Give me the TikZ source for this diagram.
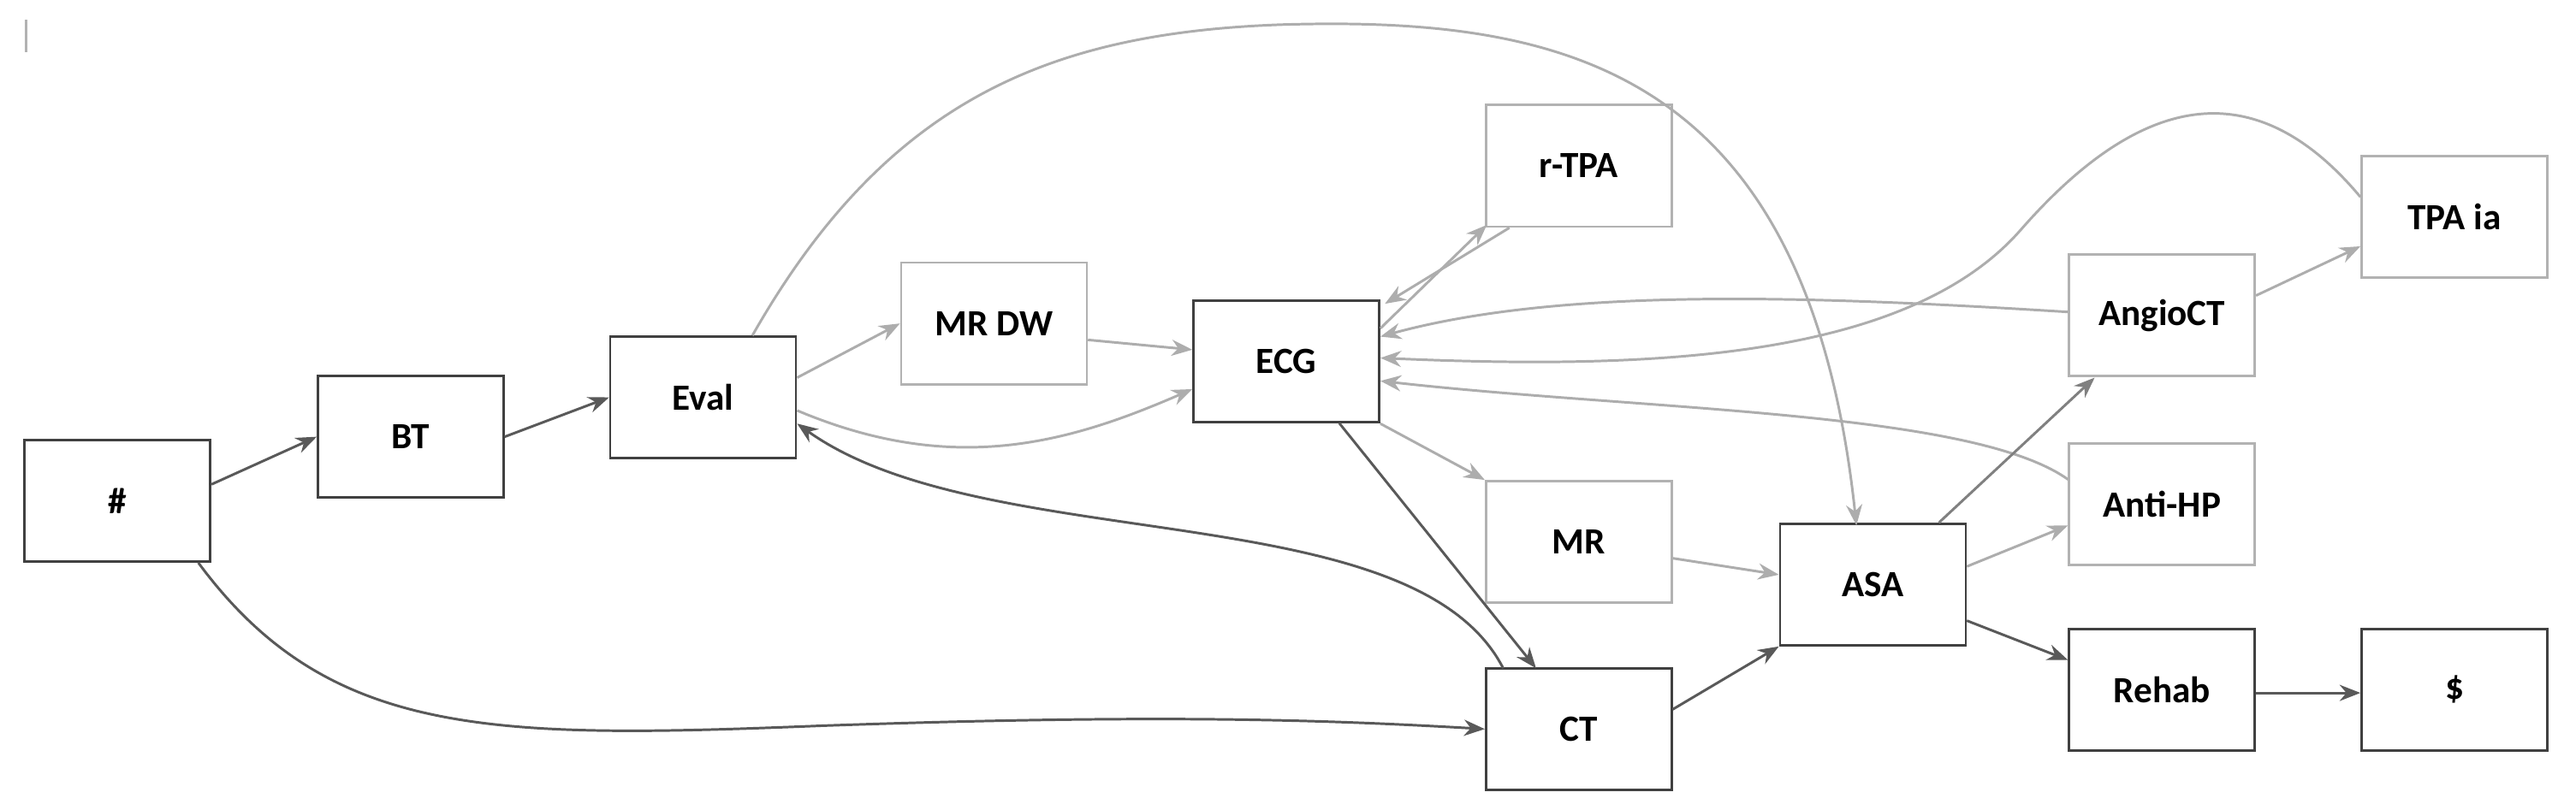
\documentclass[tikz,border=0pt]{standalone}
\usepackage{fontspec}
\setmainfont{Carlito}
\usetikzlibrary{arrows.meta}
\begin{document}
\begin{tikzpicture}[x=0.025cm,y=-0.025cm,
  box/.style={draw=#1,line width=1pt,minimum width=2.825cm,minimum height=1.85cm,inner sep=0pt,font=\bfseries\fontsize{16}{19}\selectfont,fill=white},
  dk/.style={draw=black!65,line width=1.1pt,-{Stealth[length=9pt,width=7pt]}},
  lt/.style={draw=black!32,line width=1.1pt,-{Stealth[length=9pt,width=7pt]}}]
\useasboundingbox (0,0) rectangle (1568,493);
\draw[black!30,line width=1pt] (16,12) -- (16,32);
\node[box=black!75] (h) at (71.5,305) {\#};
\node[box=black!75] (bt) at (250,266) {BT};
\node[box=black!75] (ev) at (428,242) {Eval};
\node[box=black!30] (mrdw) at (605,197) {MR DW};
\node[box=black!75] (ecg) at (783,220) {ECG};
\node[box=black!30] (rtpa) at (961,101) {r-TPA};
\node[box=black!30] (mr) at (961,330) {MR};
\node[box=black!75] (ct) at (961,444) {CT};
\node[box=black!75] (asa) at (1140,356) {ASA};
\node[box=black!30] (ang) at (1316,192) {AngioCT};
\node[box=black!30] (ahp) at (1316,307) {Anti-HP};
\node[box=black!75] (reh) at (1316,420) {Rehab};
\node[box=black!30] (tpa) at (1494,132) {TPA ia};
\node[box=black!75] (dol) at (1494,420) {\$};
\coordinate (ctin) at (935,407);
\coordinate (ctout) at (915,407);
\draw[dk] (h.east) ++(0,-10) -- (bt.west);
\draw[dk] (bt.east) -- (ev.west);
\draw[dk] (h.south east) ++(-8,0) .. controls (200,450) and (300,450) .. (500,442) .. controls (700,435) and (800,438) .. (ct.west);
\draw[lt] (ev.east) ++(0,-12) -- (mrdw.west);
\draw[lt] (ev.east) ++(0,8) .. controls (580,290) and (650,270) .. (ecg.west |- 0,237);
\draw[lt] (mrdw.east) ++(0,10) -- (ecg.west |- 0,213);
\draw[lt] (ev.north) ++(30,0) .. controls (540,60) and (640,20) .. (780,15) .. controls (950,10) and (1100,40) .. (1130,320);
\draw[dk] (ctout) .. controls (860,300) and (600,340) .. (ev.east |- 0,258);
\draw[dk] (ecg.south east) ++(-25,0) -- (ctin);
\draw[lt] (ecg.east) ++(0,-20) -- (905,137);
\draw[lt] (rtpa.south west) ++(15,0) -- (843,185);
\draw[lt] (ang.west) ++(0,-2) .. controls (1100,180) and (950,175) .. (ecg.east |- 0,205);
\draw[lt] (tpa.west) ++(0,-12) .. controls (1370,40) and (1300,60) .. (1230,140) .. controls (1160,220) and (1000,225) .. (ecg.east |- 0,218);
\draw[lt] (ahp.west) ++(0,-15) .. controls (1200,250) and (1000,250) .. (ecg.east |- 0,232);
\draw[lt] (ecg.east) ++(0,38) -- (mr.north west);
\draw[lt] (mr.east) ++(0,10) -- (asa.west |- 0,350);
\draw[dk] (ct.east) ++(0,-12) -- (asa.south west);
\draw[draw=black!50,line width=1.1pt,-{Stealth[length=9pt,width=7pt]}] (asa.north east) ++(-17,0) -- (1275,230);
\draw[lt] (asa.east) ++(0,-11) -- (ahp.west |- 0,320);
\draw[dk] (asa.east) ++(0,22) -- (reh.west |- 0,402);
\draw[lt] (ang.east) ++(0,-12) -- (tpa.west |- 0,150);
\draw[dk] (reh.east) ++(0,2) -- (dol.west |- 0,422);
\end{tikzpicture}
\end{document}
